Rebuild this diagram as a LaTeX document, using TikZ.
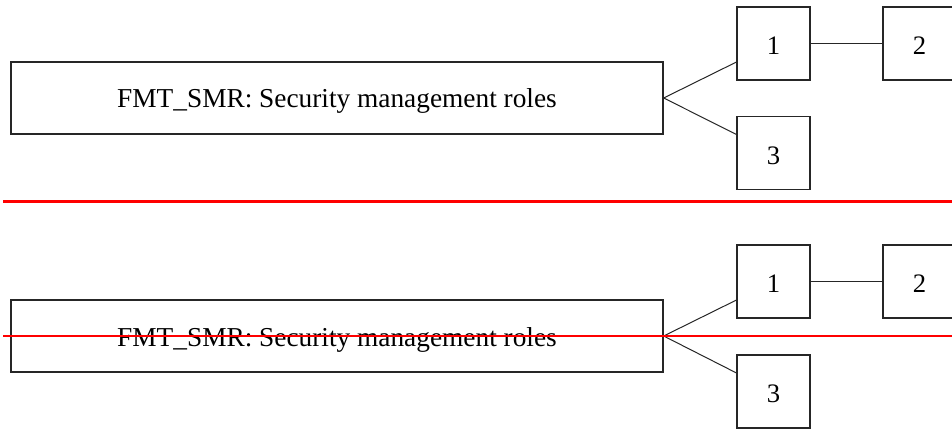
\documentclass[tikz,border=0pt]{standalone}
\usepackage{fontspec}
\setmainfont{Liberation Serif}
\usetikzlibrary{calc}
\tikzset{
  mainbox/.style={draw=black!85,line width=1pt,minimum width=489pt,minimum height=54pt,inner sep=0pt,text height=17pt,text depth=2pt,font=\fontsize{20.5}{24}\selectfont},
  smallbox/.style={draw=black!85,line width=1pt,minimum width=54.75pt,minimum height=54.75pt,inner sep=0pt,text height=17pt,text depth=0pt,font=\fontsize{20}{24}\selectfont},
  link/.style={draw=black!85,line width=0.75pt},
  redline/.style={draw=red,line width=1.6pt},
  thinred/.style={draw=red,line width=1.1pt}
}
\newcommand{\mylabel}{FMT\_SMR: Security management roles}
\begin{document}
\begin{tikzpicture}[x=0.75pt,y=-0.75pt]
\useasboundingbox (0,0) rectangle (952,428);
\clip (0,0) rectangle (952,428);
% top diagram
\node[mainbox] (m1) at (337,98) {\mylabel};
\node[smallbox] (a1) at (773.5,43.5) {1};
\node[smallbox] (a2) at (919.5,43.5) {2};
\node[smallbox] (a3) at (773.5,153) {3};
\draw[link] (m1.east) -- ($(a1.south west)!0.25!(a1.north west)$);
\draw[link] (m1.east) -- ($(a3.north west)!0.25!(a3.south west)$);
\draw[link] (a1.east) -- (a2.west);
\coordinate (r1s) at (3,201.5);
\coordinate (r1e) at (952,201.5);
\draw[redline] (r1s) -- (r1e);
% bottom diagram
\node[mainbox] (m2) at (337,336) {\mylabel};
\node[smallbox] (b1) at (773.5,281.5) {1};
\node[smallbox] (b2) at (919.5,281.5) {2};
\node[smallbox] (b3) at (773.5,391.5) {3};
\draw[link] (m2.east) -- ($(b1.south west)!0.25!(b1.north west)$);
\draw[link] (m2.east) -- ($(b3.north west)!0.25!(b3.south west)$);
\draw[link] (b1.east) -- (b2.west);
\coordinate (r2s) at (3,336);
\coordinate (r2e) at (952,336);
\draw[thinred] (r2s) -- (r2e);
\end{tikzpicture}
\end{document}
